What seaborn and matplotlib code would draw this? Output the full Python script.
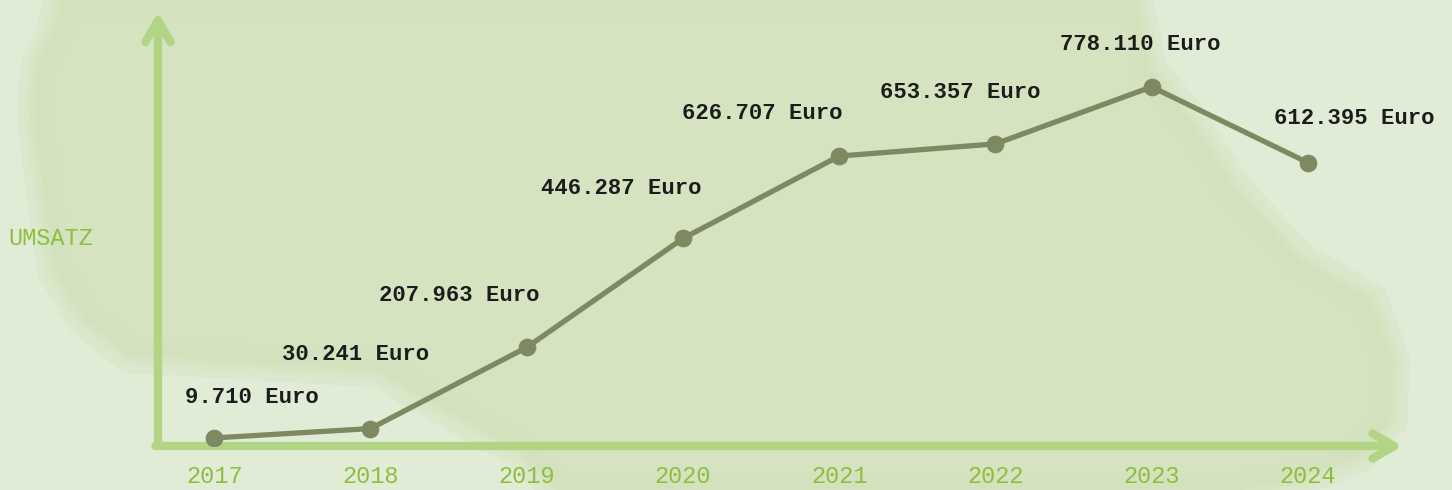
import matplotlib
matplotlib.use("Agg")
import pandas as pd
import seaborn as sns
import matplotlib.pyplot as plt
from matplotlib.patches import Polygon

years = [2017, 2018, 2019, 2020, 2021, 2022, 2023, 2024]
umsatz = [9710, 30241, 207963, 446287, 626707, 653357, 778110, 612395]
value_labels = ["9.710 Euro", "30.241 Euro", "207.963 Euro", "446.287 Euro",
                "626.707 Euro", "653.357 Euro", "778.110 Euro", "612.395 Euro"]
year_labels = [str(y) for y in years]
y_title = "UMSATZ"

# label offsets from each point, in pixels (hand placed in the original)
label_dx = [38, -15, -67, -62, -77, -35, -11, 46]
label_dy = [40, 74, 52, 50, 43, 51, 42, 44]

df = pd.DataFrame({"Jahr": years, "Umsatz": umsatz})

sns.set_theme(style="white")
plt.rcParams["font.family"] = ["Liberation Mono", "DejaVu Sans Mono"]

BG = "#e1ecd6"
BLOB = "#d3e2bd"
AXIS_GREEN = "#b1d584"
TEXT_GREEN = "#8dbf3e"
LINE = "#7e8962"

fig = plt.figure(figsize=(14.52, 4.9), dpi=100, facecolor=BG)

# watercolor-ish background blob, drawn in pixel space
bg = fig.add_axes([0, 0, 1, 1], zorder=0)
bg.set_xlim(0, 1452)
bg.set_ylim(490, 0)
bg.axis("off")
blob = [(60, 0), (1135, 0), (1150, 70), (1190, 120), (1235, 190), (1300, 260),
        (1370, 300), (1392, 360), (1390, 420), (1360, 455), (1300, 478),
        (1240, 490), (560, 490), (520, 450), (420, 395), (380, 370),
        (250, 362), (130, 355), (85, 320), (55, 270), (45, 200), (35, 120),
        (38, 65), (55, 30)]
# soft edge: a few stacked translucent layers with shrinking outlines
for lw in (26, 16, 8, 0.1):
    bg.add_patch(Polygon(blob, closed=True, facecolor=BLOB, edgecolor=BLOB,
                         lw=lw, joinstyle="round", alpha=0.3))

ax = fig.add_axes([158 / 1452, 44 / 490, 1242 / 1452, 434 / 490], zorder=1)
ax.patch.set_alpha(0)

sns.lineplot(data=df, x="Jahr", y="Umsatz", ax=ax, color=LINE, lw=3.8,
             marker="o", markersize=12, markeredgecolor=LINE, zorder=5)

for x, y, t, dx, dy in zip(years, umsatz, value_labels, label_dx, label_dy):
    ax.annotate(t, (x, y), xytext=(dx, dy), textcoords="offset pixels",
                ha="center", va="center", fontsize=16, fontweight="bold",
                color="#1c1c1c")

ax.set_xlim(2016.64, 2024.59)
ax.set_ylim(-7900, 942000)
ax.set_xticks(years, year_labels)
ax.set_yticks([])
ax.tick_params(axis="x", length=0, pad=14, labelsize=17, colors=TEXT_GREEN)
for s in ax.spines.values():
    s.set_visible(False)
ax.set_xlabel("")
ax.set_ylabel("")

# hand drawn style axis arrows
arrow = dict(arrowstyle="->,head_length=1.3,head_width=0.75", color=AXIS_GREEN,
             lw=6, shrinkA=0, shrinkB=0, capstyle="round", joinstyle="round")
ax.annotate("", xy=(0, 1), xytext=(0, 0), xycoords="axes fraction",
            arrowprops=arrow)
ax.annotate("", xy=(1.002, 0), xytext=(-0.002, 0), xycoords="axes fraction",
            arrowprops=arrow)

fig.text(8 / 1452, 1 - 238 / 490, y_title, ha="left", va="center",
         fontsize=17, color=TEXT_GREEN)

fig.savefig("out.png", dpi=100, facecolor=BG)
